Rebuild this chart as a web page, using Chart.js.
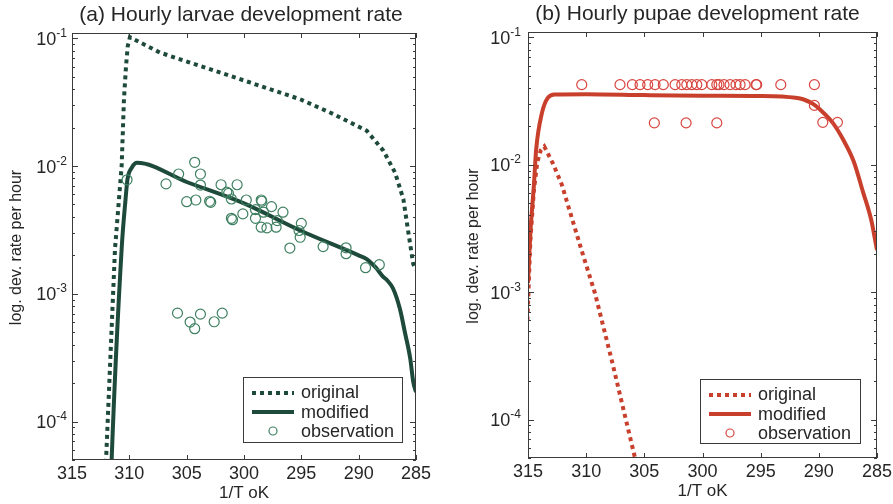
<!DOCTYPE html>
<html>
<head>
<meta charset="utf-8">
<script src="https://cdn.jsdelivr.net/npm/chart.js@4.4.1/dist/chart.umd.min.js"></script>
<style>
  html, body { margin: 0; padding: 0; background: #fff; }
  #wrap { position: relative; width: 893px; height: 504px; }
  #wrap canvas { position: absolute; top: 0; }
  #cA { left: 0; }
  #cB { left: 446px; }
</style>
</head>
<body>
<div id="wrap">
  <canvas id="cA" width="446" height="504"></canvas>
  <canvas id="cB" width="447" height="504"></canvas>
</div>
<script>
// axis ticks (temperature runs right to left, as in the figure)
const xTicks = [315, 310, 305, 300, 295, 290, 285];
const yDecades = [1e-4, 1e-3, 1e-2, 1e-1];
const yExpLabels = ['-4', '-3', '-2', '-1'];
const legendLabels = ['original', 'modified', 'observation'];

// (a) larvae
const larvaeOrigT = [312.3, 312.03, 311.25, 310.67, 310.47, 310.29, 310.14, 309.95, 307.33, 303.84, 299.48, 295.1, 292.2, 289.3, 287.85, 286.83, 286.1, 285.67, 285.24, 285.0];
const larvaeOrigRate = [1.3e-5, 5e-5, 0.00225, 0.0100, 0.0333, 0.0604, 0.0866, 0.102, 0.0773, 0.0608, 0.0451, 0.0333, 0.0255, 0.0189, 0.0132, 0.0089, 0.0055, 0.00303, 0.00171, 0.00155];
const larvaeModT = [311.62, 311.54, 310.67, 310.33, 310.16, 309.79, 309.33, 305.0, 300.0, 295.0, 290.0, 289.3, 288.5, 287.9, 287.5, 287.0, 286.4, 285.97, 285.5, 285.24, 285.0];
const larvaeModRate = [3e-5, 5.1e-5, 0.00225, 0.0055, 0.0079, 0.0097, 0.0106, 0.0075, 0.0051, 0.0031, 0.0020, 0.00187, 0.0016, 0.00137, 0.00127, 0.0011, 0.00076, 0.0005, 0.00031, 0.000204, 0.00017];
const larvaeObsT = [310.2, 304.3, 305.7, 306.8, 303.8, 303.8, 305.0, 304.2, 303.0, 302.9, 302.0, 300.6, 301.5, 301.35, 301.1, 301.1, 301.0, 299.8, 300.1, 298.5, 298.45, 299.0, 299.0, 298.5, 298.0, 298.3, 297.6, 297.1, 297.2, 296.6, 295.0, 295.2, 295.1, 296.0, 293.1, 291.1, 291.1, 289.4, 288.2,
  305.8, 304.7, 304.3, 303.8, 302.6, 301.9];
const larvaeObsRate = [0.0078, 0.0107, 0.00866, 0.00725, 0.00866, 0.0071, 0.00526, 0.00542, 0.0053, 0.0052, 0.00714, 0.00714, 0.00624, 0.0061, 0.00552, 0.0039, 0.0038, 0.00542, 0.00422, 0.00542, 0.0053, 0.00456, 0.0039, 0.00332, 0.00328, 0.00435, 0.00481, 0.00374, 0.00332, 0.00435, 0.00356, 0.00313, 0.00277, 0.00228, 0.00234, 0.00229, 0.00206, 0.0016, 0.00169,
  0.000706, 0.000601, 0.000533, 0.000693, 0.000604, 0.000706];

// (b) pupae
const pupaeOrigT = [315.05, 314.8, 314.5, 314.2, 313.9, 313.6, 312.85, 312.1, 310.4, 309.24, 307.8, 305.8, 305.5];
const pupaeOrigRate = [0.0006, 0.0025, 0.0062, 0.0105, 0.013, 0.0139, 0.0102, 0.0070, 0.00214, 0.00098, 0.000292, 5.0e-5, 3.4e-5];
const pupaeModT = [315.0, 314.8, 314.5, 314.3, 313.8, 313.3, 312.7, 310.0, 305.0, 300.0, 295.0, 292.0, 291.3, 290.5, 289.9, 288.8, 287.9, 287.0, 286.2, 285.5, 285.0];
const pupaeModRate = [0.00118, 0.0029, 0.00676, 0.0131, 0.0255, 0.0335, 0.0356, 0.0358, 0.0352, 0.0348, 0.0346, 0.0335, 0.0325, 0.0300, 0.0271, 0.0213, 0.0157, 0.0106, 0.0061, 0.0037, 0.00214];
const pupaeObsT = [310.38, 307.09, 306.03, 305.37, 304.71, 304.08, 303.37, 302.36, 301.78, 301.35, 300.92, 300.49, 300.06, 299.2, 298.77, 298.58, 298.15, 297.63, 297.12, 296.77, 296.34, 295.4, 295.34, 293.27, 290.38,
  304.14, 301.41, 298.77, 289.66, 288.4, 290.38];
const pupaeObsRate = [0.0425, 0.0425, 0.0425, 0.0425, 0.0425, 0.0425, 0.0425, 0.0425, 0.0425, 0.0425, 0.0425, 0.0425, 0.0425, 0.0425, 0.0425, 0.0425, 0.0425, 0.0425, 0.0425, 0.0425, 0.0425, 0.0425, 0.0425, 0.0425, 0.0425,
  0.0213, 0.0213, 0.0213, 0.0215, 0.0215, 0.0292];

const FONT = '"Liberation Sans", Arial, Helvetica, sans-serif';
const INK = '#262626';

const toXY = (xs, ys) => xs.map((x, i) => ({ x, y: ys[i] }));

// MATLAB-ish box axes: inward ticks on all four sides, 10^n labels, title, boxed legend
const matlabAxes = {
  id: 'matlabAxes',
  afterDatasetsDraw(chart, args, o) {
    const { ctx, chartArea: a, scales: { x, y } } = chart;
    ctx.save();
    ctx.strokeStyle = '#3a3a3a';
    ctx.lineWidth = 1;
    ctx.strokeRect(a.left + 0.5, a.top + 0.5, a.right - a.left - 1, a.bottom - a.top - 1);

    ctx.beginPath();
    xTicks.forEach(t => {
      const px = Math.round(x.getPixelForValue(t)) + 0.5;
      ctx.moveTo(px, a.bottom); ctx.lineTo(px, a.bottom - 5);
      ctx.moveTo(px, a.top); ctx.lineTo(px, a.top + 5);
    });
    for (let e = -5; e <= -1; e++) {
      for (let m = 1; m <= 9; m++) {
        const v = m * Math.pow(10, e);
        if (v < y.min || v > y.max) continue;
        const py = Math.round(y.getPixelForValue(v)) + 0.5;
        const len = m === 1 ? 6 : 3;
        ctx.moveTo(a.left, py); ctx.lineTo(a.left + len, py);
        ctx.moveTo(a.right, py); ctx.lineTo(a.right - len, py);
      }
    }
    ctx.stroke();

    ctx.fillStyle = INK;
    // x tick labels
    ctx.font = '18px ' + FONT;
    ctx.textAlign = 'center';
    ctx.textBaseline = 'alphabetic';
    xTicks.forEach(t => ctx.fillText(String(t), x.getPixelForValue(t), a.bottom + 19));

    // y tick labels 10^n
    yDecades.forEach((d, i) => {
      const py = y.getPixelForValue(d);
      ctx.font = '12px ' + FONT;
      const w2 = ctx.measureText(yExpLabels[i]).width;
      ctx.font = '18px ' + FONT;
      const w1 = ctx.measureText('10').width;
      const right = a.left - o.yLabelGap;
      ctx.textAlign = 'left';
      ctx.fillText('10', right - w2 - w1, py + 6.5);
      ctx.font = '12px ' + FONT;
      ctx.fillText(yExpLabels[i], right - w2, py - 1.5);
    });

    // axis titles
    const cx = (a.left + a.right) / 2;
    ctx.textAlign = 'center';
    ctx.font = '17px ' + FONT;
    ctx.fillText('1/T oK', cx, a.bottom + 38);
    ctx.save();
    ctx.translate(a.left - o.yTitleOffset, (a.top + a.bottom) / 2 + 1);
    ctx.rotate(-Math.PI / 2);
    ctx.font = '16px ' + FONT;
    ctx.textBaseline = 'middle';
    ctx.fillText('log. dev. rate per hour', 0, 0);
    ctx.restore();

    // panel title
    ctx.font = '21px ' + FONT;
    ctx.fillText(o.title, cx + o.titleShift, a.top - 12);

    // legend
    const L = a.right - o.legend.right;
    const T = a.bottom - o.legend.bottom;
    ctx.fillStyle = '#fff';
    ctx.fillRect(L, T, o.legend.w, o.legend.h);
    ctx.strokeStyle = '#3a3a3a';
    ctx.strokeRect(L + 0.5, T + 0.5, o.legend.w, o.legend.h);
    const x0 = L + 9, x1 = L + 51;
    ctx.strokeStyle = o.lineColor;
    ctx.lineWidth = 4;
    ctx.setLineDash([4, 4]);
    ctx.beginPath(); ctx.moveTo(x0, T + 16); ctx.lineTo(x1, T + 16); ctx.stroke();
    ctx.setLineDash([]);
    ctx.beginPath(); ctx.moveTo(x0, T + 35); ctx.lineTo(x1, T + 35); ctx.stroke();
    ctx.strokeStyle = o.obsColor;
    ctx.lineWidth = 1.2;
    ctx.beginPath(); ctx.arc((x0 + x1) / 2, T + 54, 4, 0, Math.PI * 2); ctx.stroke();
    ctx.fillStyle = INK;
    ctx.font = '18px ' + FONT;
    ctx.textAlign = 'left';
    legendLabels.forEach((s, i) => ctx.fillText(s, L + 58, T + 21 + i * 19.5));
    ctx.restore();
  }
};

function makePanel(id, p) {
  return new Chart(document.getElementById(id), {
    type: 'scatter',
    data: {
      datasets: [
        { label: 'observation', data: toXY(p.obsT, p.obsRate), order: 0, showLine: false,
          pointRadius: 5, pointHoverRadius: 5, borderColor: p.obsColor, borderWidth: 1.2, backgroundColor: 'rgba(0,0,0,0)' },
        { label: 'modified', data: toXY(p.modT, p.modRate), order: 1, showLine: true, pointRadius: 0,
          borderColor: p.lineColor, borderWidth: 4, borderJoinStyle: 'round', cubicInterpolationMode: 'monotone' },
        { label: 'original', data: toXY(p.origT, p.origRate), order: 2, showLine: true, pointRadius: 0,
          borderColor: p.lineColor, borderWidth: 4, borderDash: [4, 4], tension: 0 },
      ],
    },
    options: {
      responsive: false,
      animation: false,
      devicePixelRatio: 1,
      layout: { padding: p.pad },
      scales: {
        x: { type: 'linear', min: 285, max: 315, reverse: true, display: false },
        y: { type: 'logarithmic', min: 5e-5, max: 0.11, display: false },
      },
      plugins: {
        legend: { display: false },
        tooltip: { enabled: false },
        matlabAxes: {
          title: p.title, titleShift: p.titleShift, lineColor: p.lineColor, obsColor: p.obsColor,
          yLabelGap: p.yLabelGap, yTitleOffset: p.yTitleOffset, legend: p.legend,
        },
      },
    },
    plugins: [matlabAxes],
  });
}

makePanel('cA', {
  title: '(a) Hourly larvae development rate', titleShift: -3,
  origT: larvaeOrigT, origRate: larvaeOrigRate,
  modT: larvaeModT, modRate: larvaeModRate,
  obsT: larvaeObsT, obsRate: larvaeObsRate,
  lineColor: '#1d4a3a', obsColor: '#3f8062',
  pad: { left: 72, right: 30, top: 33, bottom: 44 },
  yLabelGap: 5, yTitleOffset: 55,
  legend: { right: 173, bottom: 83, w: 159, h: 65 },
});

makePanel('cB', {
  title: '(b) Hourly pupae development rate', titleShift: -5,
  origT: pupaeOrigT, origRate: pupaeOrigRate,
  modT: pupaeModT, modRate: pupaeModRate,
  obsT: pupaeObsT, obsRate: pupaeObsRate,
  lineColor: '#c8402c', obsColor: '#d8453e',
  pad: { left: 82, right: 16, top: 32, bottom: 46 },
  yLabelGap: 7, yTitleOffset: 54,
  legend: { right: 177, bottom: 79, w: 160, h: 64 },
});
</script>
</body>
</html>
